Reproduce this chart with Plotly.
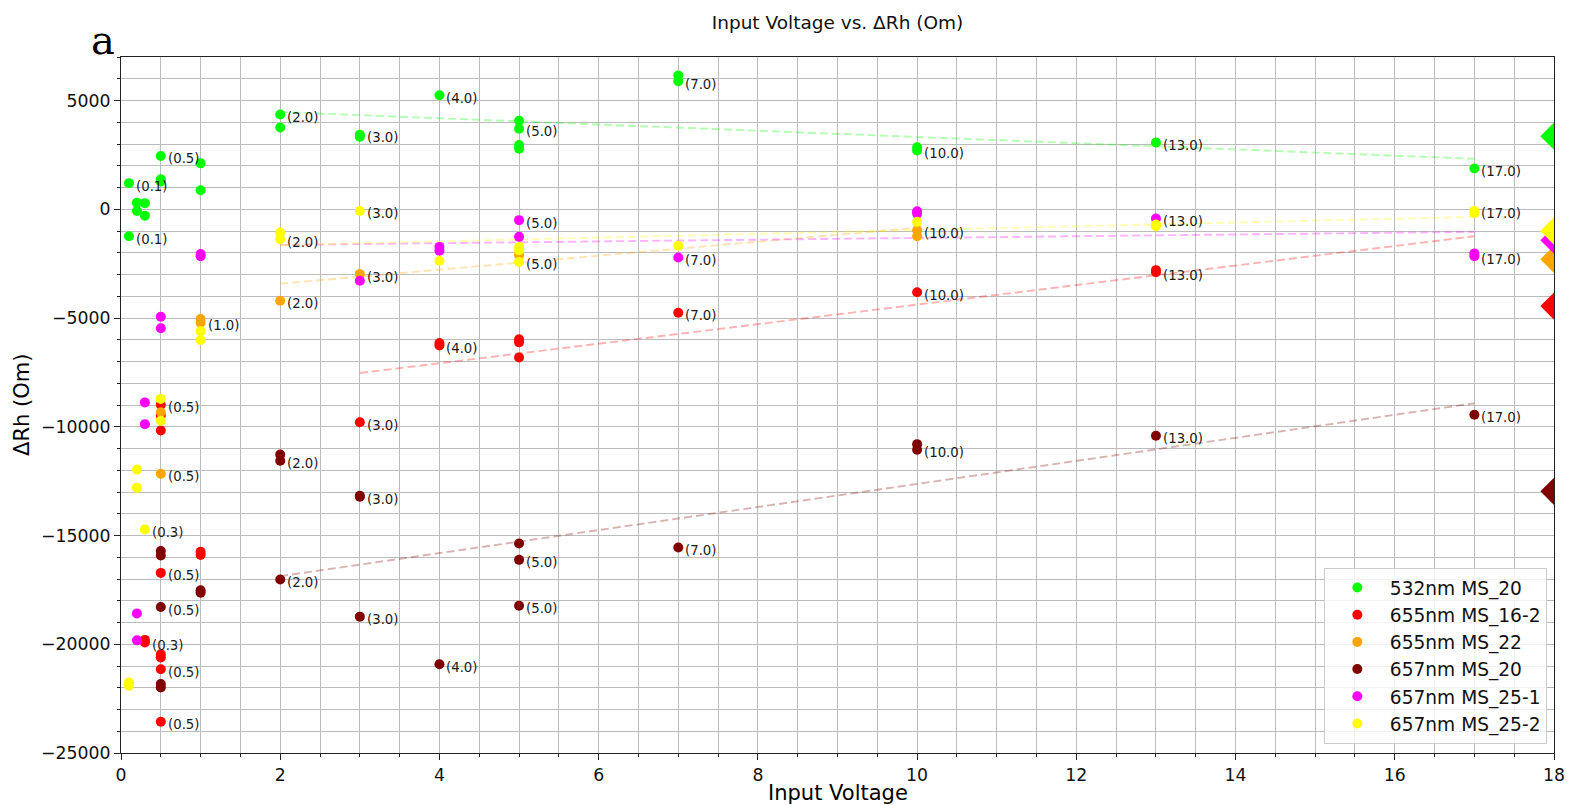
import plotly.graph_objects as go

# ---- measurement series: input voltage vs. change of Rh (Om) ----
series_names = ["532nm MS_20", "655nm MS_16-2", "655nm MS_22",
                "657nm MS_20", "657nm MS_25-1", "657nm MS_25-2"]
series_colors = ["#00ff00", "#ff0000", "#ffa500", "#800000", "#ff00ff", "#ffff00"]

g_x = [0.1, 0.1, 0.2, 0.2, 0.3, 0.3, 0.5, 0.5, 0.5, 1, 1, 2, 2, 3, 3, 4, 5, 5, 5, 5, 7, 7, 10, 10, 13, 17]
g_y = [1200, -1240, 300, -80, 280, -300, 2450, 1280, 1380, 2110, 870, 4360, 3760, 3330, 3430, 5240,
       4070, 3700, 2950, 2780, 6150, 5890, 2850, 2700, 3070, 1870]
g_lbl = [1, 1, 0, 0, 0, 0, 1, 0, 0, 0, 0, 1, 0, 0, 1, 1, 0, 1, 0, 0, 0, 1, 0, 1, 1, 1]

r_x = [0.5, 0.5, 0.5, 0.5, 0.5, 0.5, 0.5, 0.5, 0.3, 0.3, 1, 1, 3, 4, 4, 5, 5, 5, 7, 10, 13, 13]
r_y = [-8990, -9480, -10170, -16720, -20460, -20610, -21150, -23560, -19800, -19920, -15750, -15900,
       -9790, -6150, -6260, -5980, -6120, -6820, -4760, -3820, -2800, -2900]
r_lbl = [1, 0, 0, 1, 0, 0, 1, 1, 0, 1, 0, 0, 1, 0, 1, 0, 0, 0, 1, 1, 0, 1]

o_x = [0.5, 0.5, 1, 1, 2, 3, 5, 10, 10]
o_y = [-9330, -12160, -5050, -5220, -4210, -2980, -2110, -960, -1240]
o_lbl = [0, 1, 0, 1, 1, 1, 0, 1, 0]

b_x = [0.5, 0.5, 0.5, 0.5, 0.5, 1, 1, 2, 2, 2, 3, 3, 3, 4, 5, 5, 5, 7, 10, 10, 13, 17]
b_y = [-15710, -15920, -18290, -21830, -21990, -17520, -17630, -11280, -11560, -17020, -13170, -13220,
       -18730, -20920, -15370, -16120, -18230, -15550, -10800, -11060, -10410, -9450]
b_lbl = [0, 0, 1, 0, 0, 0, 0, 0, 1, 1, 0, 1, 1, 1, 0, 1, 1, 1, 0, 1, 1, 1]

m_x = [0.2, 0.2, 0.3, 0.3, 0.5, 0.5, 1, 1, 3, 4, 4, 5, 5, 7, 10, 10, 13, 17, 17]
m_y = [-18590, -19820, -8880, -9880, -4940, -5470, -2060, -2160, -3290, -1730, -1910, -500, -1270,
       -2220, -90, -200, -430, -2030, -2160]
m_lbl = [0, 0, 0, 0, 0, 0, 0, 0, 0, 0, 0, 1, 0, 1, 0, 0, 1, 0, 1]

y_x = [0.1, 0.1, 0.2, 0.2, 0.3, 0.5, 0.5, 1, 1, 2, 2, 3, 4, 5, 5, 5, 7, 10, 13, 13, 17, 17]
y_y = [-21760, -21910, -11970, -12810, -14720, -8720, -9720, -5600, -6010, -1070, -1380, -80, -2370,
       -1730, -1880, -2420, -1680, -580, -700, -780, -80, -180]
y_lbl = [0, 0, 0, 0, 1, 0, 0, 0, 0, 0, 1, 1, 0, 0, 0, 1, 0, 0, 0, 0, 1, 0]

# linear trend segments (start/end voltage and value)
trend_x0 = [2, 3, 2, 2, 2, 2]
trend_x1 = [17, 17, 10, 17, 17, 17]
trend_y0 = [4470, -7530, -3420, -16870, -1640, -1650]
trend_y1 = [2320, -1240, -850, -8920, -1040, -350]

# reference values at 18 V
ref_x = 18
ref_y = [3360, -4450, -2300, -12970, -1420, -1000]

# axis ticks
x_ticks = [0, 2, 4, 6, 8, 10, 12, 14, 16, 18]
y_ticks = [-25000, -20000, -15000, -10000, -5000, 0, 5000]
y_ticktext = ["\u221225000", "\u221220000", "\u221215000", "\u221210000", "\u22125000", "0", "5000"]

xs = [g_x, r_x, o_x, b_x, m_x, y_x]
ys = [g_y, r_y, o_y, b_y, m_y, y_y]
lbls = [g_lbl, r_lbl, o_lbl, b_lbl, m_lbl, y_lbl]

FONT = "DejaVu Sans"


def rgba(hex_color, a):
    h = hex_color.lstrip("#")
    return f"rgba({int(h[0:2], 16)},{int(h[2:4], 16)},{int(h[4:6], 16)},{a})"


fig = go.Figure()

# trend lines below the points
for i, c in enumerate(series_colors):
    fig.add_trace(go.Scatter(
        x=[trend_x0[i], trend_x1[i]], y=[trend_y0[i], trend_y1[i]],
        mode="lines", line=dict(color=rgba(c, 0.3), width=1.9, dash="8px,4px"),
        showlegend=False, hoverinfo="skip"))

for i, (name, c) in enumerate(zip(series_names, series_colors)):
    fig.add_trace(go.Scatter(
        x=xs[i], y=ys[i], mode="markers", name=name,
        marker=dict(color=c, size=10, line=dict(width=0))))

# diamonds on the right border (clipped by the plot area)
for i, c in enumerate(series_colors):
    fig.add_trace(go.Scatter(
        x=[ref_x], y=[ref_y[i]], mode="markers", showlegend=False,
        marker=dict(symbol="diamond", color=c, size=21, line=dict(width=0)),
        cliponaxis=True, hoverinfo="skip"))

annotations = []
for i in range(len(xs)):
    for xv, yv, lb in zip(xs[i], ys[i], lbls[i]):
        if lb:
            annotations.append(dict(
                x=xv, y=yv, xref="x", yref="y", text=f"({xv:.1f})", showarrow=False,
                xanchor="left", yanchor="middle", xshift=5, yshift=-3,
                font=dict(family=FONT, size=13.3, color="#1a1a1a")))

# panel letter
annotations.append(dict(x=-0.0225, y=1.025, xref="paper", yref="paper", text="a",
                        showarrow=False, xanchor="left", yanchor="middle",
                        font=dict(family="DejaVu Serif", size=40, color="black")))
# axis titles
annotations.append(dict(x=0.5, y=-0.0575, xref="paper", yref="paper", text="Input Voltage",
                        showarrow=False, xanchor="center", yanchor="middle",
                        font=dict(family=FONT, size=21, color="black")))
annotations.append(dict(x=-0.0691, y=0.5, xref="paper", yref="paper", text="\u0394Rh (Om)",
                        showarrow=False, xanchor="center", yanchor="middle", textangle=-90,
                        font=dict(family=FONT, size=21, color="black")))

grid_c = "#bcbcbc"
fig.update_layout(
    width=1571, height=805,
    margin=dict(l=121, r=17, t=57, b=52, autoexpand=False),
    paper_bgcolor="white", plot_bgcolor="white",
    font=dict(family=FONT, color="black"),
    title=dict(text="Input Voltage vs. \u0394Rh (Om)", x=0.5331, xanchor="center",
               y=0.972, yanchor="middle", font=dict(family=FONT, size=18.5, color="#111")),
    annotations=annotations,
    showlegend=True,
    legend=dict(x=0.995, y=0.013, xanchor="right", yanchor="bottom",
                bgcolor="rgba(255,255,255,0.8)", bordercolor="#cccccc", borderwidth=1,
                font=dict(family=FONT, size=18.6, color="#111"), itemwidth=55,
                tracegroupgap=0),
    xaxis=dict(range=[0, 18], tickvals=x_ticks, ticktext=[str(v) for v in x_ticks],
               automargin=False,
               showgrid=True, gridcolor=grid_c, gridwidth=1, zeroline=False,
               showline=True, linecolor="#222", linewidth=1.2, mirror=True,
               ticks="outside", ticklen=6, tickcolor="#222",
               tickfont=dict(family=FONT, size=17.3, color="#111"),
               minor=dict(dtick=0.5, tick0=0, showgrid=True, gridcolor=grid_c, gridwidth=1,
                          ticks="outside", ticklen=3, tickcolor="#222")),
    yaxis=dict(range=[-25000, 7000], tickvals=y_ticks, ticktext=y_ticktext,
               automargin=False,
               showgrid=True, gridcolor=grid_c, gridwidth=1, zeroline=False,
               showline=True, linecolor="#222", linewidth=1.2, mirror=True,
               ticks="outside", ticklen=6, tickcolor="#222",
               tickfont=dict(family=FONT, size=17.3, color="#111"),
               minor=dict(dtick=1000, tick0=0, showgrid=True, gridcolor=grid_c, gridwidth=1,
                          ticks="outside", ticklen=3, tickcolor="#222")),
)

fig.write_html("out.html")
